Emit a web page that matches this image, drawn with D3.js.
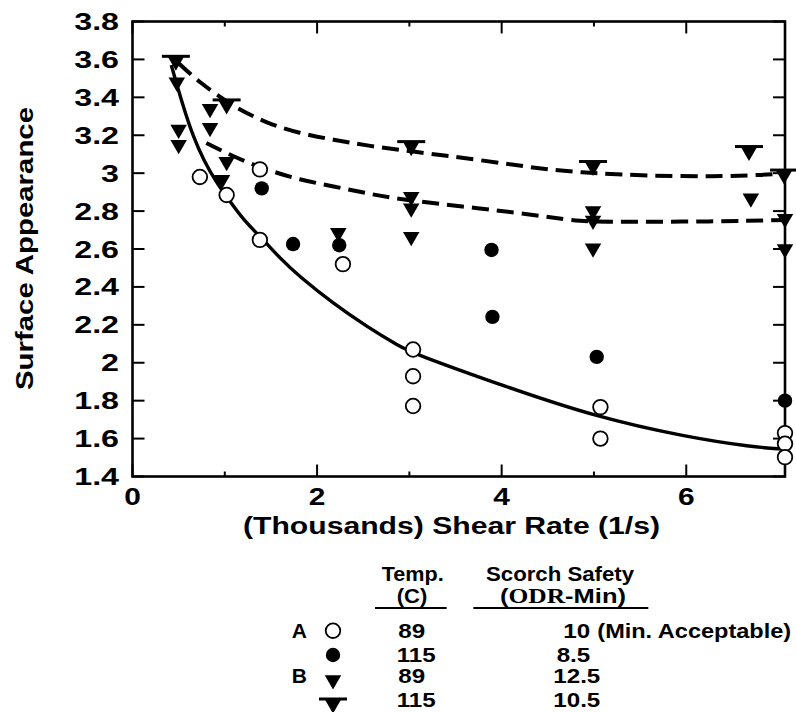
<!DOCTYPE html>
<html>
<head>
<meta charset="utf-8">
<script src="https://cdn.jsdelivr.net/npm/d3@7"></script>
<style>
  html, body { margin: 0; padding: 0; background: #fff; }
  svg { display: block; }
  text { font-family: "Liberation Sans", Arial, Helvetica, sans-serif; font-weight: bold; fill: #000; }
</style>
</head>
<body>
<svg id="chart" width="796" height="712"></svg>
<script>
// ---- Data ---------------------------------------------------------------
// Shear rate in thousands of 1/s, surface appearance rating.
const a89X  = [0.73, 1.02, 1.38, 1.38, 2.28, 3.04, 3.04, 3.04, 5.07, 5.07, 7.07, 7.07, 7.07];
const a89Y  = [2.98, 2.885, 3.02, 2.648, 2.52, 2.07, 1.929, 1.772, 1.766, 1.60, 1.629, 1.573, 1.502];

const a115X = [1.40, 1.74, 2.24, 3.89, 3.90, 5.03, 7.07];
const a115Y = [2.92, 2.626, 2.62, 2.595, 2.242, 2.031, 1.80];

const b89X  = [0.48, 0.50, 0.50, 0.84, 0.84, 0.97, 1.02, 2.23, 3.02, 3.02, 3.02, 4.99, 4.99, 4.99, 6.70, 7.07, 7.07];
const b89Y  = [3.48, 3.23, 3.15, 3.34, 3.24, 2.965, 3.06, 2.685, 2.876, 2.815, 2.665, 2.80, 2.75, 2.604, 2.868, 2.76, 2.60];

const b115X = [0.47, 1.02, 3.02, 4.99, 6.68, 7.06];
const b115Y = [3.59, 3.36, 3.14, 3.035, 3.114, 2.99];

// Fitted trend curves
const fitA89X  = [0.42, 0.55, 0.66, 0.77, 0.91, 1.02, 1.20, 1.42, 1.60, 1.81, 2.17, 2.54, 2.90, 3.04, 4.05, 5.03, 6.00, 6.72, 7.05];
const fitA89Y  = [3.57, 3.35, 3.19, 3.07, 2.95, 2.876, 2.753, 2.648, 2.55, 2.454, 2.314, 2.19, 2.084, 2.05, 1.872, 1.713, 1.608, 1.555, 1.545];

const fitB115X = [0.50, 0.73, 1.09, 1.45, 1.81, 2.18, 2.54, 3.02, 3.76, 4.49, 4.99, 5.57, 6.29, 6.83, 7.07];
const fitB115Y = [3.58, 3.476, 3.352, 3.264, 3.21, 3.176, 3.145, 3.115, 3.07, 3.018, 3.0, 2.986, 2.982, 2.99, 3.0];

const fitB89X  = [0.80, 1.09, 1.45, 1.81, 2.18, 2.54, 2.90, 3.76, 4.49, 4.85, 5.21, 6.29, 7.07];
const fitB89Y  = [3.159, 3.088, 3.018, 2.965, 2.93, 2.894, 2.86, 2.815, 2.771, 2.744, 2.744, 2.744, 2.753];

// Axes
const xTicks      = [0, 1, 2, 3, 4, 5, 6];
const xTickLabels = [0, 2, 4, 6];
const yTicks      = [1.4, 1.6, 1.8, 2.0, 2.2, 2.4, 2.6, 2.8, 3.0, 3.2, 3.4, 3.6, 3.8];
const xTitle = "(Thousands) Shear Rate (1/s)";
const yTitle = "Surface Appearance";

// Legend table
const legendGroup  = ["A", "", "B", ""];
const legendSymbol = ["openCircle", "filledCircle", "triangle", "barTriangle"];
const legendTemp   = ["89", "115", "89", "115"];
const legendScorch = ["10", "8.5", "12.5", "10.5"];
const legendNote   = "(Min. Acceptable)";

// ---- Layout -------------------------------------------------------------
const svg = d3.select("#chart");
const x = d3.scaleLinear().domain([0, 7.07]).range([132.5, 785]);
const y = d3.scaleLinear().domain([1.4, 3.8]).range([476.5, 21.5]);

// stretch text horizontally to the wide bold face
function widen(sel, k) {
  sel.each(function () {
    const n = this.getComputedTextLength();
    d3.select(this).attr("textLength", n * k).attr("lengthAdjust", "spacingAndGlyphs");
  });
}

// ---- Markers ------------------------------------------------------------
const triPath = d3.symbol().type(d3.symbolTriangle).size(118)();
function drawSymbol(g, kind, cx, cy) {
  if (kind === "openCircle") {
    g.append("circle").attr("cx", cx).attr("cy", cy).attr("r", 7.3)
      .attr("fill", "#fff").attr("stroke", "#000").attr("stroke-width", 1.8);
  } else if (kind === "filledCircle") {
    g.append("circle").attr("cx", cx).attr("cy", cy).attr("r", 7.2).attr("fill", "#000");
  } else {
    g.append("path").attr("d", triPath)
      .attr("transform", `translate(${cx},${cy}) rotate(180)`).attr("fill", "#000");
    if (kind === "barTriangle") {
      g.append("line").attr("x1", cx - 14).attr("x2", cx + 14)
        .attr("y1", cy - 5).attr("y2", cy - 5)
        .attr("stroke", "#000").attr("stroke-width", 3);
    }
  }
}

// ---- Frame & ticks ------------------------------------------------------
const [x0, x1] = x.range();
const [yb, yt] = y.range();
const axisG = svg.append("g").attr("stroke", "#000").attr("fill", "none");

axisG.selectAll(".xb").data(xTicks).join("line")
  .attr("x1", d => x(d)).attr("x2", d => x(d))
  .attr("y1", yb).attr("y2", d => yb - (d % 2 === 0 ? 12 : 5))
  .attr("stroke-width", 2);
axisG.selectAll(".xt").data(xTicks).join("line")
  .attr("x1", d => x(d)).attr("x2", d => x(d))
  .attr("y1", yt).attr("y2", d => yt + (d % 2 === 0 ? 12 : 5))
  .attr("stroke-width", 2);
axisG.selectAll(".yl").data(yTicks).join("line")
  .attr("x1", x0).attr("x2", x0 + 12)
  .attr("y1", d => y(d)).attr("y2", d => y(d)).attr("stroke-width", 2);
axisG.selectAll(".yr").data(yTicks).join("line")
  .attr("x1", x1).attr("x2", x1 - 12)
  .attr("y1", d => y(d)).attr("y2", d => y(d)).attr("stroke-width", 2);

axisG.append("rect").attr("x", x0).attr("y", yt)
  .attr("width", x1 - x0).attr("height", yb - yt)
  .attr("stroke-width", 2.6);

// tick labels
const fmt = d => (Math.abs(d - Math.round(d)) < 1e-9 ? String(Math.round(d)) : d.toFixed(1));
svg.append("g").selectAll("text").data(yTicks).join("text")
  .attr("x", 119).attr("y", d => y(d) + 8.5)
  .attr("text-anchor", "end").attr("font-size", 23)
  .text(fmt).call(widen, 1.4);
svg.append("g").selectAll("text").data(xTickLabels).join("text")
  .attr("x", d => x(d)).attr("y", 505)
  .attr("text-anchor", "middle").attr("font-size", 23)
  .text(fmt).call(widen, 1.3);

// axis titles
svg.append("text").attr("x", 451.5).attr("y", 533.5)
  .attr("text-anchor", "middle").attr("font-size", 23)
  .text(xTitle).attr("textLength", 417).attr("lengthAdjust", "spacingAndGlyphs");
svg.append("text").attr("transform", "translate(33,248.5) rotate(-90)")
  .attr("text-anchor", "middle").attr("font-size", 23)
  .text(yTitle).attr("textLength", 283).attr("lengthAdjust", "spacingAndGlyphs");

// ---- Trend curves -------------------------------------------------------
const line = d3.line().x(d => x(d[0])).y(d => y(d[1])).curve(d3.curveBasis);
const zip = (xs, ys) => xs.map((v, i) => [v, ys[i]]);
const curves = svg.append("g").attr("fill", "none").attr("stroke", "#000");
curves.append("path").attr("d", line(zip(fitA89X, fitA89Y))).attr("stroke-width", 3.4);
curves.append("path").attr("d", line(zip(fitB115X, fitB115Y)))
  .attr("stroke-width", 4).attr("stroke-dasharray", "17 8");
curves.append("path").attr("d", line(zip(fitB89X, fitB89Y)))
  .attr("stroke-width", 4).attr("stroke-dasharray", "17 8");

// ---- Data points --------------------------------------------------------
const pts = svg.append("g");
b89X.forEach((v, i) => drawSymbol(pts, "triangle", x(v), y(b89Y[i])));
b115X.forEach((v, i) => drawSymbol(pts, "barTriangle", x(v), y(b115Y[i])));
a115X.forEach((v, i) => drawSymbol(pts, "filledCircle", x(v), y(a115Y[i])));
a89X.forEach((v, i) => drawSymbol(pts, "openCircle", x(v), y(a89Y[i])));

// ---- Legend table -------------------------------------------------------
const lg = svg.append("g");
const rowBase = [638.3, 661.7, 683.3, 706.7];
const lf = 21;   // body rows
const hf = 20;   // column headers

lg.append("text").attr("x", 381.7).attr("y", 581).attr("font-size", hf).text("Temp.").call(widen, 1.08);
lg.append("text").attr("x", 396.7).attr("y", 603).attr("font-size", hf).text("(C)").call(widen, 1.1);
lg.append("text").attr("x", 486).attr("y", 581).attr("font-size", hf).text("Scorch Safety").call(widen, 1.11);
const odr = lg.append("text").attr("x", 500).attr("y", 603).attr("font-size", hf)
  .attr("textLength", 126).attr("lengthAdjust", "spacingAndGlyphs");
odr.append("tspan").text("(");
odr.append("tspan").style("font-family", "'Liberation Serif', 'Times New Roman', serif").text("ODR");
odr.append("tspan").text("-Min)");
lg.append("line").attr("x1", 375).attr("x2", 446.7).attr("y1", 608).attr("y2", 608)
  .attr("stroke", "#000").attr("stroke-width", 2);
lg.append("line").attr("x1", 473.3).attr("x2", 648.3).attr("y1", 608).attr("y2", 608)
  .attr("stroke", "#000").attr("stroke-width", 2);

const symY = [630.7, 655, 680, 704];
legendGroup.forEach((g, i) => {
  if (g) lg.append("text").attr("x", 291.7).attr("y", rowBase[i]).attr("font-size", lf).text(g);
  drawSymbol(lg, legendSymbol[i], 333, symY[i]);
  lg.append("text").attr("x", legendTemp[i].length === 3 ? 396.7 : 398.3).attr("y", rowBase[i])
    .attr("font-size", lf).text(legendTemp[i]).call(widen, 1.15);
  const sx = legendScorch[i] === "10" ? 563.3 : (legendScorch[i].length === 3 ? 556.7 : 553.3);
  lg.append("text").attr("x", sx).attr("y", rowBase[i])
    .attr("font-size", lf).text(legendScorch[i]).call(widen, 1.15);
});
lg.append("text").attr("x", 597.3).attr("y", rowBase[0]).attr("font-size", lf)
  .text(legendNote).call(widen, 1.12);
</script>
</body>
</html>
